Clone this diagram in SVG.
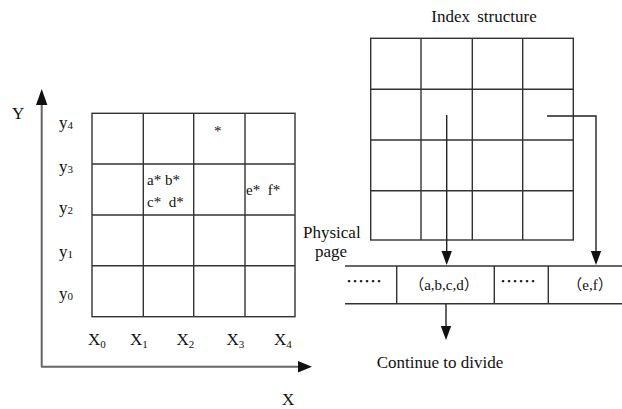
<svg xmlns="http://www.w3.org/2000/svg" width="622" height="409" viewBox="0 0 622 409">
<style>
text{font-family:"Liberation Serif","Times New Roman","DejaVu Serif",serif;fill:#111;}
.lbl{font-size:17px;}
.sub{font-size:11px;}
.pt{font-size:15px;}
.cjk{font-family:"Liberation Serif","Noto Sans CJK SC",serif;font-size:15px;}
.grid{stroke:#333;stroke-width:1.4;fill:none;}
.axis{stroke:#666;stroke-width:2;fill:none;}
.conn{stroke:#222;stroke-width:1.4;fill:none;}
.head{fill:#111;}
.dots{font-family:"Noto Sans CJK SC",sans-serif;font-size:18px;}
</style>
<rect width="622" height="409" fill="#fff"/>

<g id="axes">
  <line class="axis" x1="41.7" y1="100" x2="41.7" y2="366.7"/>
  <line class="axis" x1="41" y1="366.7" x2="300" y2="366.7"/>
  <polygon class="head" points="41.7,89 36,105 47.4,105"/>
  <polygon class="head" points="312,366.7 298,361 298,372.4"/>
  <text class="lbl" x="12" y="119">Y</text>
  <text class="lbl" x="282" y="405">X</text>
</g>

<g id="left-grid">
  <rect class="grid" x="92" y="113.3" width="203" height="203.4"/>
  <line class="grid" x1="143.3" y1="113.3" x2="143.3" y2="316.7"/>
  <line class="grid" x1="193.7" y1="113.3" x2="193.7" y2="316.7"/>
  <line class="grid" x1="245" y1="113.3" x2="245" y2="316.7"/>
  <line class="grid" x1="92" y1="164" x2="295" y2="164"/>
  <line class="grid" x1="92" y1="215" x2="295" y2="215"/>
  <line class="grid" x1="92" y1="265.7" x2="295" y2="265.7"/>
  <text class="pt" x="214" y="136">*</text>
  <text class="pt" x="147" y="185">a* b*</text>
  <text class="pt" x="147" y="206.5" xml:space="preserve">c*  d*</text>
  <text class="pt" x="246" y="195" xml:space="preserve">e*  f*</text>
</g>

<g id="y-labels">
  <text class="lbl" x="59" y="127.5">y<tspan class="sub" dy="1">4</tspan></text>
  <text class="lbl" x="59" y="171.5">y<tspan class="sub" dy="1">3</tspan></text>
  <text class="lbl" x="59" y="213">y<tspan class="sub" dy="1">2</tspan></text>
  <text class="lbl" x="59" y="257">y<tspan class="sub" dy="1">1</tspan></text>
  <text class="lbl" x="59" y="299">y<tspan class="sub" dy="1">0</tspan></text>
</g>

<g id="x-labels">
  <text class="lbl" x="88" y="345">X<tspan class="sub" dy="3">0</tspan></text>
  <text class="lbl" x="130" y="345">X<tspan class="sub" dy="3">1</tspan></text>
  <text class="lbl" x="176.5" y="345">X<tspan class="sub" dy="3">2</tspan></text>
  <text class="lbl" x="226.5" y="345">X<tspan class="sub" dy="3">3</tspan></text>
  <text class="lbl" x="274" y="345">X<tspan class="sub" dy="3">4</tspan></text>
</g>

<g id="index-structure">
  <text class="lbl" x="484" y="21.7" text-anchor="middle" word-spacing="3">Index structure</text>
  <rect class="grid" x="370.7" y="38.3" width="202.6" height="201.7"/>
  <line class="grid" x1="421" y1="38.3" x2="421" y2="240"/>
  <line class="grid" x1="472.3" y1="38.3" x2="472.3" y2="240"/>
  <line class="grid" x1="522.7" y1="38.3" x2="522.7" y2="240"/>
  <line class="grid" x1="370.7" y1="89.3" x2="573.3" y2="89.3"/>
  <line class="grid" x1="370.7" y1="140" x2="573.3" y2="140"/>
  <line class="grid" x1="370.7" y1="190.7" x2="573.3" y2="190.7"/>
</g>

<g id="physical-page">
  <text class="lbl" x="303" y="238">Physical</text>
  <text class="lbl" x="315" y="256.5">page</text>
  <line class="grid" x1="345" y1="266" x2="622" y2="266"/>
  <line class="grid" x1="345" y1="303.7" x2="622" y2="303.7"/>
  <line class="grid" x1="396.7" y1="266" x2="396.7" y2="303.7"/>
  <line class="grid" x1="494.3" y1="266" x2="494.3" y2="303.7"/>
  <line class="grid" x1="548.3" y1="266" x2="548.3" y2="303.7"/>
  <text class="dots" x="346" y="288">……</text>
  <text class="cjk" x="444" y="290" text-anchor="middle">（a,b,c,d）</text>
  <text class="dots" x="500" y="288">……</text>
  <text class="cjk" x="590" y="290" text-anchor="middle">（e,f）</text>
</g>

<g id="continue">
  <text class="lbl" x="440" y="368" text-anchor="middle">Continue to divide</text>
</g>

<g id="connectors">
  <polyline class="conn" points="446.7,115 446.7,253"/>
  <polygon class="head" points="446.7,265 441.5,251 451.9,251"/>
  <polyline class="conn" points="547,116 596,116 596,253"/>
  <polygon class="head" points="596,265 590.8,251 601.2,251"/>
  <polyline class="conn" points="446,304 446,328"/>
  <polygon class="head" points="446,340 440.8,326 451.2,326"/>
</g>
</svg>
